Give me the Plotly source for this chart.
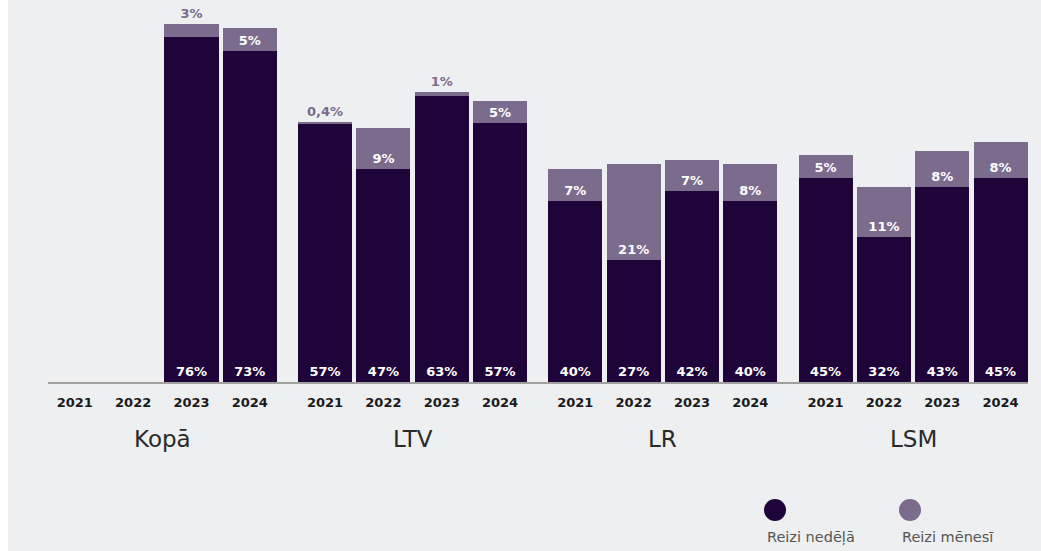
import plotly.graph_objects as go

groups = ['Kopā', 'LTV', 'LR', 'LSM']
years = ['2021', '2022', '2023', '2024']

# share of respondents, % (None = no data)
weekly = {
    'Kopā': [None, None, 76, 73],
    'LTV': [57, 47, 63, 57],
    'LR': [40, 27, 42, 40],
    'LSM': [45, 32, 43, 45],
}
monthly = {
    'Kopā': [None, None, 3, 5],
    'LTV': [0.4, 9, 1, 5],
    'LR': [7, 21, 7, 8],
    'LSM': [5, 11, 8, 8],
}

DARK = '#1f0439'
LIGHT = '#7b6b8c'
BG = '#eeeff1'
FONT = 'DejaVu Sans'

GAP = 0.29  # extra space between groups, in bar units


def pct(v):
    if v is None:
        return ''
    return f'{v:g}%'.replace('.', ',')


xs, w_vals, m_vals, year_ticks = [], [], [], []
for gi, g in enumerate(groups):
    for yi, y in enumerate(years):
        xs.append(gi * (4 + GAP) + yi)
        year_ticks.append(y)
        w_vals.append(weekly[g][yi])
        m_vals.append(monthly[g][yi])

fig = go.Figure()
fig.add_trace(go.Bar(
    x=xs, y=w_vals, name='Reizi nedēļā',
    marker=dict(color=DARK, line=dict(width=0)),
    width=0.926,
    text=[pct(v) for v in w_vals],
    textposition='inside', insidetextanchor='start',
    textfont=dict(color='white', size=13, family=FONT, weight='bold'),
    hoverinfo='skip',
))
fig.add_trace(go.Bar(
    x=xs, y=m_vals, name='Reizi mēnesī',
    marker=dict(color=LIGHT, line=dict(width=0)),
    width=0.926,
    text=[pct(v) for v in m_vals],
    textposition=['outside' if (v is not None and v < 4) else 'inside' for v in m_vals],
    insidetextanchor='start',
    insidetextfont=dict(color='white', size=13, family=FONT, weight='bold'),
    outsidetextfont=dict(color=LIGHT, size=13, family=FONT, weight='bold'),
    cliponaxis=False,
    hoverinfo='skip',
))

W, H = 1033, 551
# plot area in figure pixels: x 40..1020, y 10..382
L, R, T, B = 40, 1020, 10, 382


def px_x(p):
    return (p - L) / (R - L)


def px_y(p):
    return (B - p) / (B - T)


annotations = []
for gi, g in enumerate(groups):
    annotations.append(dict(
        x=gi * (4 + GAP) + 1.5, xref='x', y=px_y(439), yref='paper',
        text=g, showarrow=False, yanchor='middle',
        font=dict(size=23, color='#2a2a2a', family=FONT),
    ))

shapes = []
legend_items = [('Reizi nedēļā', DARK, 767), ('Reizi mēnesī', LIGHT, 902)]
for label, color, cx in legend_items:
    shapes.append(dict(
        type='circle', xref='paper', yref='paper',
        xsizemode='pixel', ysizemode='pixel',
        xanchor=px_x(cx), yanchor=px_y(510),
        x0=-11, x1=11, y0=-11, y1=11,
        fillcolor=color, line=dict(width=0),
    ))
    annotations.append(dict(
        x=px_x(cx - 10), xref='paper', y=px_y(537), yref='paper',
        text=label, showarrow=False, xanchor='left', yanchor='middle',
        font=dict(size=14.5, color='#555555', family=FONT),
    ))

fig.update_layout(
    width=W, height=H,
    barmode='stack',
    showlegend=False,
    paper_bgcolor=BG, plot_bgcolor=BG,
    margin=dict(l=L, r=W - R, t=T, b=H - B),
    font=dict(family=FONT),
    annotations=annotations,
    shapes=shapes,
    xaxis=dict(
        range=[-0.46, 3 * (4 + GAP) + 3 + 0.47],
        tickvals=xs, ticktext=year_ticks,
        tickfont=dict(size=13, color='#1a1a1a', family=FONT, weight='bold'),
        ticks='', ticklabelstandoff=8,
        showline=True, linecolor='#a0a0a0', linewidth=1.5,
        showgrid=False, zeroline=False, fixedrange=True,
    ),
    yaxis=dict(
        range=[0, 82], visible=False, showgrid=False, zeroline=False,
        fixedrange=True,
    ),
)

fig.write_html(
    'out.html',
    post_script="document.body.style.margin='0 0 0 8px';document.body.style.overflow='hidden';",
)
